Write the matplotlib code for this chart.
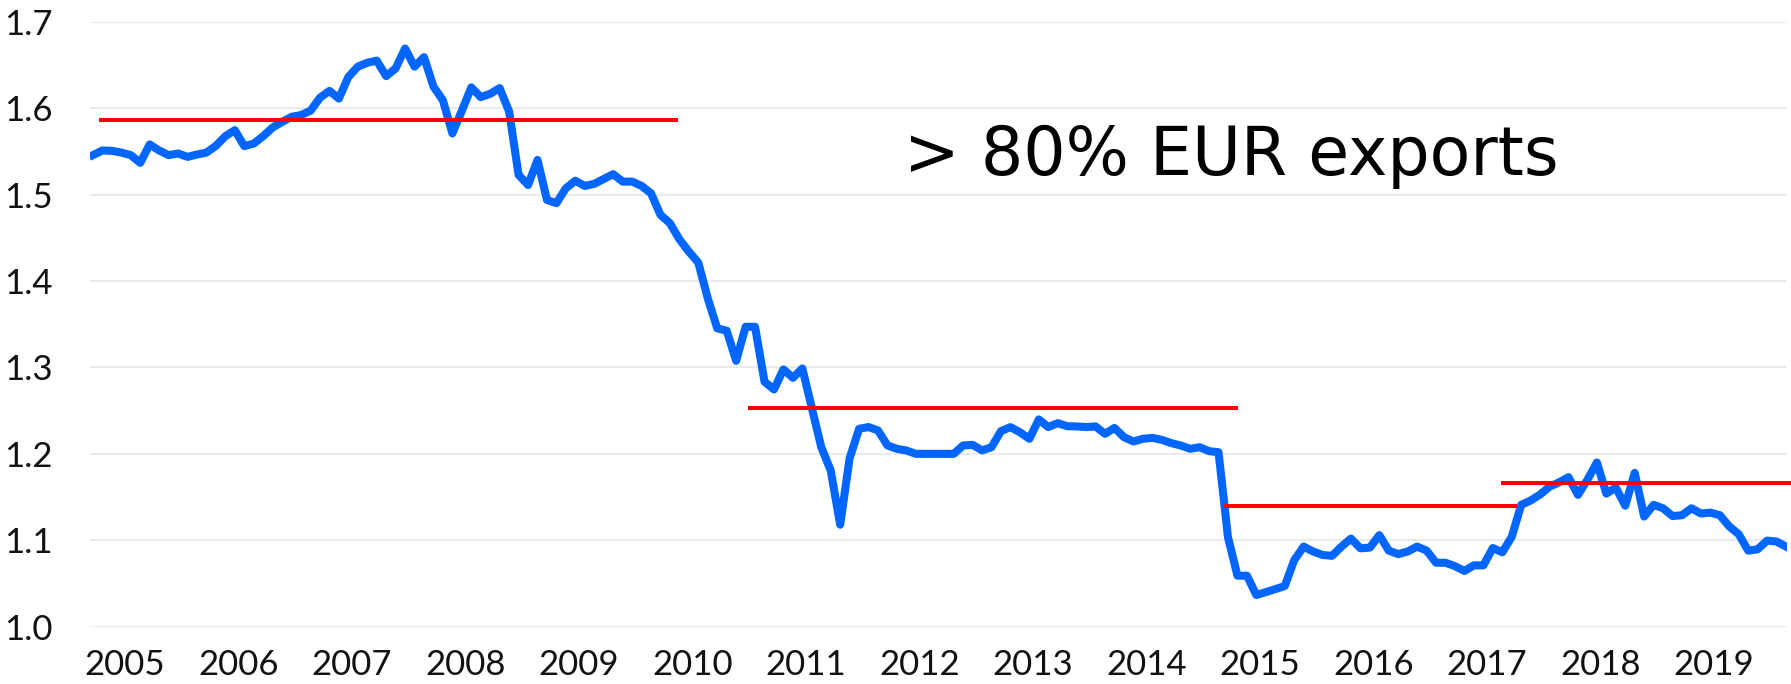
import numpy as np
import matplotlib.pyplot as plt

# monthly values, Jan 2005 .. Dec 2019
rate_2005 = [1.5456, 1.551, 1.5506, 1.5486, 1.5456, 1.5367, 1.558, 1.551, 1.5456, 1.5475, 1.5436, 1.5463]
rate_2006 = [1.5486, 1.5564, 1.5676, 1.5745, 1.556, 1.559, 1.5676, 1.5776, 1.584, 1.590, 1.592, 1.597]
rate_2007 = [1.612, 1.620, 1.611, 1.636, 1.648, 1.6525, 1.655, 1.637, 1.646, 1.669, 1.648, 1.659]
rate_2008 = [1.625, 1.609, 1.5707, 1.597, 1.624, 1.6127, 1.6166, 1.6232, 1.596, 1.5228, 1.511, 1.540]
rate_2009 = [1.4938, 1.490, 1.5073, 1.516, 1.510, 1.5124, 1.518, 1.5236, 1.515, 1.515, 1.510, 1.5015]
rate_2010 = [1.4765, 1.4668, 1.4483, 1.434, 1.4212, 1.380, 1.3452, 1.3425, 1.3077, 1.347, 1.347, 1.2834]
rate_2011 = [1.2745, 1.2977, 1.288, 1.2988, 1.253, 1.2077, 1.1807, 1.118, 1.195, 1.229, 1.231, 1.227]
rate_2012 = [1.2097, 1.2058, 1.2039, 1.200, 1.200, 1.200, 1.200, 1.200, 1.2097, 1.2104, 1.204, 1.2077]
rate_2013 = [1.2263, 1.2309, 1.225, 1.2174, 1.2398, 1.231, 1.2355, 1.232, 1.2317, 1.231, 1.2317, 1.2232]
rate_2014 = [1.230, 1.2193, 1.2143, 1.2174, 1.2185, 1.2162, 1.2124, 1.2097, 1.2058, 1.2077, 1.2031, 1.2019]
rate_2015 = [1.1035, 1.059, 1.059, 1.0367, 1.040, 1.0435, 1.047, 1.077, 1.0927, 1.087, 1.083, 1.082]
rate_2016 = [1.0927, 1.102, 1.0907, 1.0915, 1.106, 1.088, 1.084, 1.087, 1.0927, 1.088, 1.074, 1.074]
rate_2017 = [1.070, 1.0645, 1.071, 1.071, 1.091, 1.086, 1.104, 1.141, 1.146, 1.153, 1.162, 1.167]
rate_2018 = [1.173, 1.1525, 1.170, 1.190, 1.154, 1.161, 1.140, 1.178, 1.1274, 1.141, 1.137, 1.128]
rate_2019 = [1.129, 1.137, 1.131, 1.132, 1.129, 1.116, 1.107, 1.088, 1.0896, 1.0996, 1.0985, 1.0927]

years = list(range(2005, 2020))
year_labels = [str(y) for y in years]
y_ticks = [1.0, 1.1, 1.2, 1.3, 1.4, 1.5, 1.6, 1.7]

# average levels (red lines): start, end, level
seg_start = [2005.07, 2010.79, 2014.98, 2017.42]
seg_end = [2010.14, 2015.07, 2017.53, 2019.97]
seg_level = [1.586, 1.2535, 1.1402, 1.1668]

note = "> 80% EUR exports"

rate = np.concatenate([rate_2005, rate_2006, rate_2007, rate_2008, rate_2009,
                       rate_2010, rate_2011, rate_2012, rate_2013, rate_2014,
                       rate_2015, rate_2016, rate_2017, rate_2018, rate_2019])
t = 2005 + np.arange(len(rate)) / 12

fig = plt.figure(figsize=(17.91, 6.84), dpi=100)
ax = fig.add_axes([90 / 1791, 1 - 626.7 / 684, 1697 / 1791, 605 / 684])

ax.plot(t, rate, color='#0066ff', lw=5.8, solid_joinstyle='round', zorder=3)
for s, e, lv in zip(seg_start, seg_end, seg_level):
    ax.plot([s, e], [lv, lv], color='#ff0000', lw=2.9, zorder=4, clip_on=False)

ax.set_xlim(2004.974, 2019.925)
ax.set_ylim(1.0, 1.7)
ax.set_yticks(y_ticks)
ax.set_yticklabels(['%.1f' % v for v in y_ticks])
ax.set_xticks([y + 0.28 for y in years])
ax.set_xticklabels(year_labels)
ax.grid(axis='y', color='#e3e7ed', lw=1.2)
ax.set_axisbelow(True)
for sp in ax.spines.values():
    sp.set_visible(False)
ax.tick_params(axis='both', length=0, labelsize=25, labelcolor='#111111')
ax.tick_params(axis='x', pad=16)
ax.tick_params(axis='y', pad=27)
for lab in ax.get_xticklabels() + ax.get_yticklabels():
    lab.set_fontfamily('Lato')

fig.text(904 / 1791, 1 - 175 / 684, note, fontsize=48, family='DejaVu Sans',
         ha='left', va='baseline', color='black')

fig.savefig('out.png', dpi=100)
